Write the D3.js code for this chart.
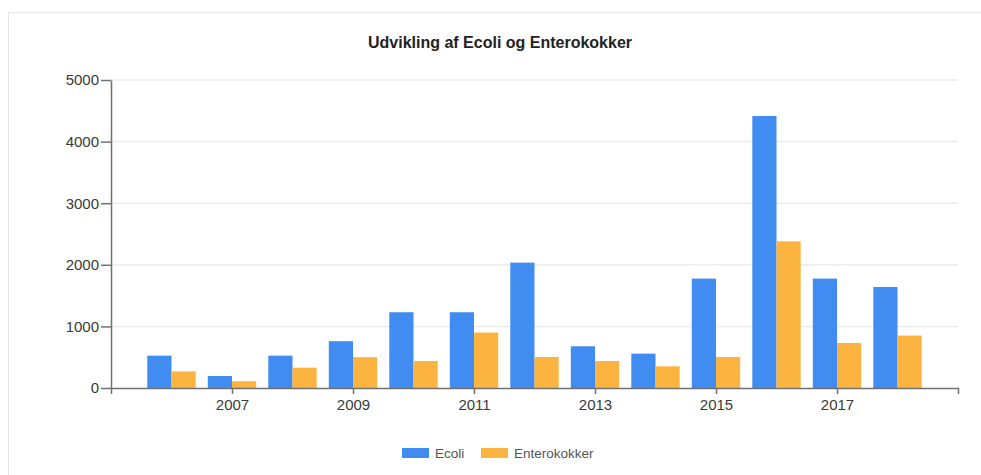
<!DOCTYPE html>
<html><head><meta charset="utf-8">
<script src="https://cdn.jsdelivr.net/npm/d3@7"></script>
<style>body{margin:0;background:#fff;} text{font-family:"Liberation Sans",Arial,sans-serif;}</style>
</head><body><svg id="c" width="981" height="475"></svg>
<script>
const years = [2006,2007,2008,2009,2010,2011,2012,2013,2014,2015,2016,2017,2018];
const ecoli = [525,195,525,760,1230,1230,2035,677,558,1776,4416,1776,1640];
const enterokokker = [270,110,330,500,438,900,503,438,352,503,2381,731,851];
const seriesNames = ["Ecoli","Enterokokker"];
const seriesColors = ["#418CF0","#FCB441"];
const yTicks = [0,1000,2000,3000,4000,5000];
const xTicks = [2007,2009,2011,2013,2015,2017];
const title = "Udvikling af Ecoli og Enterokokker";

const svg = d3.select("#c");
svg.append("rect").attr("x",8.5).attr("y",12.5).attr("width",1000).attr("height",500)
  .attr("fill","#fff").attr("stroke","#e3e3e3");

const L=111, R=958, T=80, B=388;
const x = d3.scaleLinear().domain([2005,2019]).range([L,R]);
const y = d3.scaleLinear().domain([0,5000]).range([B,T]);
const step = x(2006)-x(2005);
const sub = d3.scaleBand().domain(seriesNames).range([-step*0.4, step*0.4]);

// grid
svg.append("g").selectAll("line").data(yTicks.filter(d=>d>0)).join("line")
  .attr("x1",L).attr("x2",R).attr("y1",d=>y(d)).attr("y2",d=>y(d))
  .attr("stroke","#ececec").attr("stroke-width",1.5);

const data = [ecoli, enterokokker];
data.forEach((vals,si)=>{
  svg.append("g").selectAll("rect").data(vals).join("rect")
    .attr("x",(d,i)=>x(years[i])+sub(seriesNames[si]))
    .attr("width",sub.bandwidth())
    .attr("y",d=>y(d)).attr("height",d=>y(0)-y(d))
    .attr("fill",seriesColors[si]);
});

// axes
const yAxis = svg.append("g").attr("transform",`translate(${L},0)`)
  .call(d3.axisLeft(y).tickValues(yTicks).tickFormat(d3.format("d")).tickSize(10).tickSizeOuter(0).tickPadding(2));
const xAxis = svg.append("g").attr("transform",`translate(0,${B})`)
  .call(d3.axisBottom(x).tickValues(xTicks).tickFormat(d3.format("d")).tickSize(6).tickSizeOuter(6).tickPadding(5));
[yAxis,xAxis].forEach(g=>{
  g.selectAll("path,line").attr("stroke","#707070").attr("stroke-width",1.5);
  g.selectAll("text").attr("fill","#3a3a3a").style("font-size","15px");
});

svg.append("text").attr("x",500).attr("y",48).attr("text-anchor","middle")
  .style("font-size","16px").style("font-weight","bold").attr("fill","#222").text(title);

// legend
const lg = svg.append("g");
const legX = [402, 481];
seriesNames.forEach((n,i)=>{
  lg.append("rect").attr("x",legX[i]).attr("y",448).attr("width",27).attr("height",10).attr("fill",seriesColors[i]);
  lg.append("text").attr("x",legX[i]+33).attr("y",458).style("font-size","13.5px").attr("fill","#555").text(n);
});
</script></body></html>
